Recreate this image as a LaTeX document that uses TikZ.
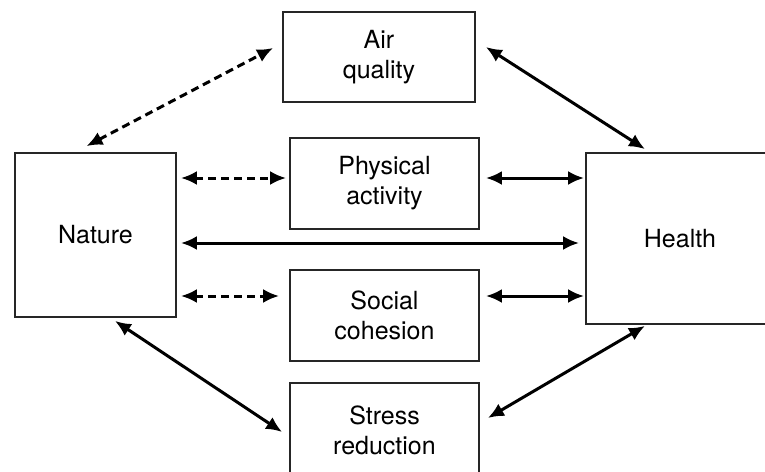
\documentclass[tikz,border=0pt]{standalone}
\usepackage{fontspec}
\setmainfont{TeX Gyre Heros}
\usepackage{tikz}
\usetikzlibrary{arrows.meta, positioning}
\tikzstyle{block} = [rectangle, draw=black!85, line width=1.8pt, align=center, font=\fontsize{25}{30}\selectfont, inner sep=0pt]
\tikzstyle{link} = [line width=3pt, {Latex[length=16pt,width=14pt]}-{Latex[length=16pt,width=14pt]}]
\tikzstyle{weak} = [link, dash pattern=on 8pt off 5pt]

\begin{document}
\begin{tikzpicture}[x=1pt, y=-1pt]
    \useasboundingbox (0,0) rectangle (765,471);
    % Factors
    \node [block, minimum width=192pt, minimum height=90pt] (air) at (379,57) {Air\\quality};
    \node [block, minimum width=189pt, minimum height=91pt] (phys) at (384.5,183.5) {Physical\\activity};
    \node [block, minimum width=189pt, minimum height=91pt] (social) at (384.5,315.5) {Social\\cohesion};
    \node [block, minimum width=189pt, minimum height=94pt] (stress) at (384.5,430) {Stress\\reduction};
    \node [block, minimum width=161pt, minimum height=164pt] (nature) at (95.5,235) {Nature};
    \node [block, minimum width=188pt, minimum height=171pt] (health) at (680,238.5) {Health};
    
    % Pathways from nature
    \draw [weak] ([xshift=-9pt, yshift=6pt]nature.north) -- ([xshift=-9pt, yshift=9pt]air.west);
    \draw [weak] ([xshift=4pt, yshift=57pt]nature.east) -- ([xshift=-3pt, yshift=5.5pt]phys.west);
    \draw [link] ([xshift=4pt, yshift=-8pt]nature.east) -- ([xshift=-6pt, yshift=-4.5pt]health.west);
    \draw [weak] ([xshift=4pt, yshift=-61pt]nature.east) -- ([xshift=-10pt, yshift=19.5pt]social.west);
    \draw [link] ([xshift=19.5pt, yshift=-3pt]nature.south) -- ([xshift=-7pt, yshift=-2pt]stress.west);
    
    % Pathways to health
    \draw [link] ([xshift=10pt, yshift=10pt]air.east) -- ([xshift=-35pt, yshift=3pt]health.north);
    \draw [link] ([xshift=6pt, yshift=5.5pt]phys.east) -- ([xshift=-1pt, yshift=60.5pt]health.west);
    \draw [link] ([xshift=6pt, yshift=19.5pt]social.east) -- ([xshift=-1pt, yshift=-57.5pt]health.west);
    \draw [link] ([xshift=8pt, yshift=12pt]stress.east) -- ([xshift=-35pt, yshift=-1pt]health.south);
\end{tikzpicture}
\end{document}
